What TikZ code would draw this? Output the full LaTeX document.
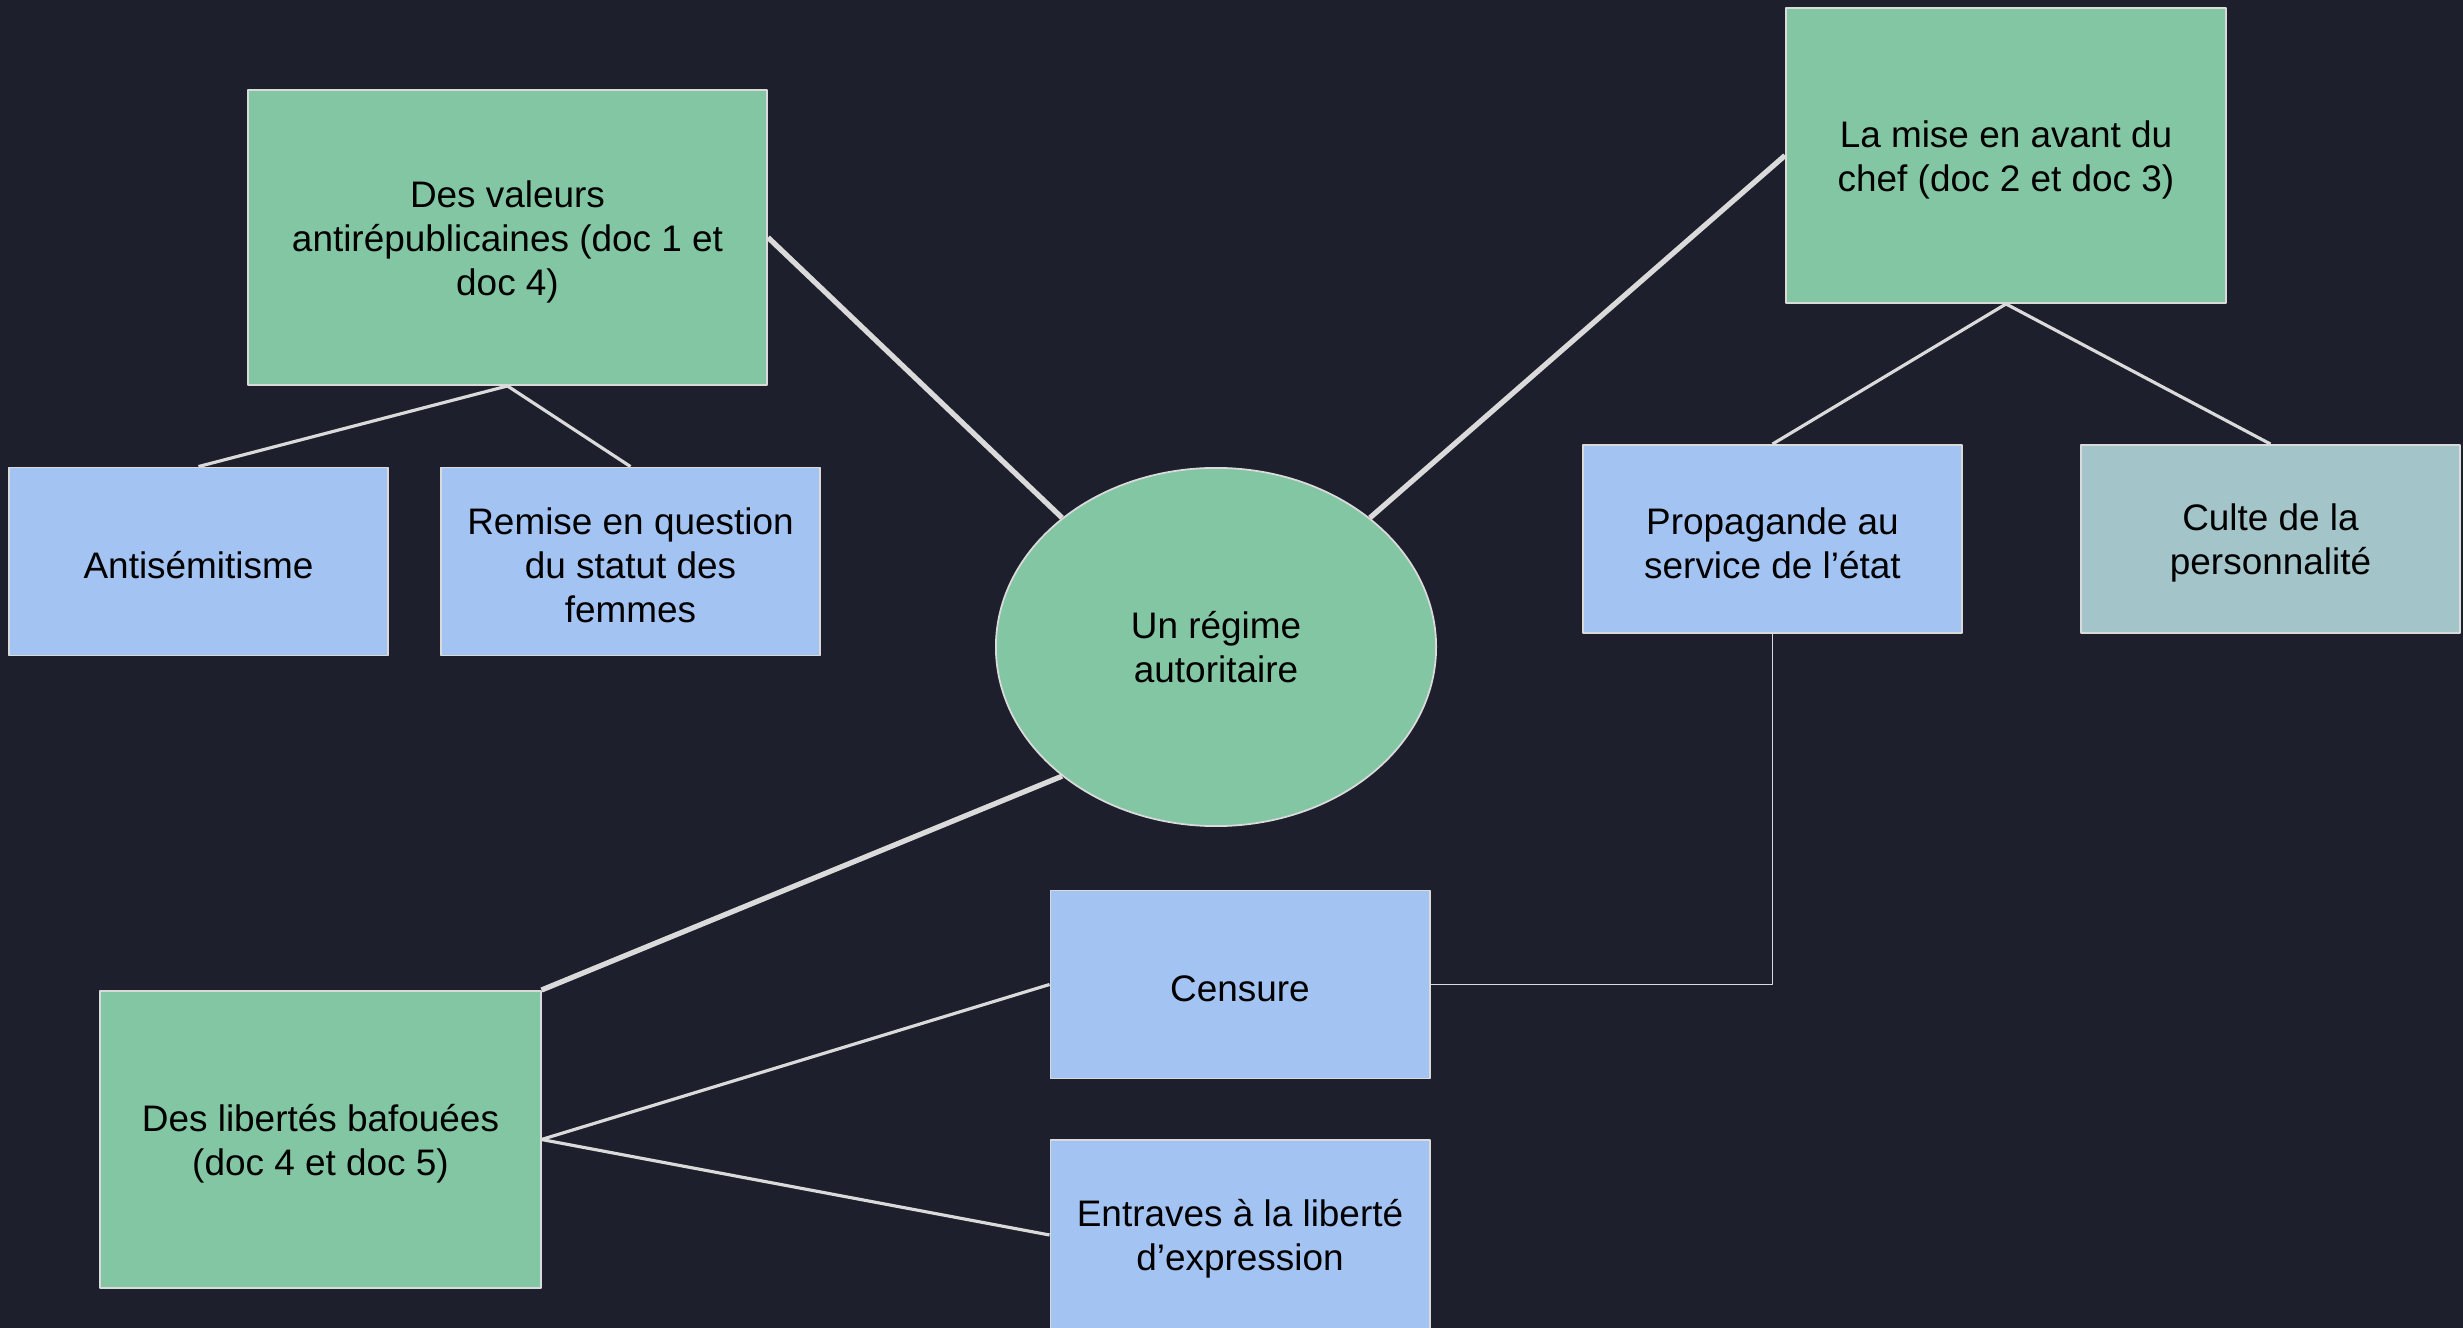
\documentclass[tikz,border=0pt]{standalone}
\usepackage{fontspec}
\setmainfont{Liberation Sans}
\usetikzlibrary{shapes.geometric}
\definecolor{fond}{HTML}{1D1F2C}
\definecolor{vert}{HTML}{83C6A4}
\definecolor{bleu}{HTML}{A3C3F2}
\definecolor{grisbleu}{HTML}{A3C4C8}
\definecolor{trait}{HTML}{DADADA}
\begin{document}
\begin{tikzpicture}[x=0.01cm, y=-0.01cm, font=\fontsize{10.5}{12.5}\selectfont, line join=round,
    boite/.style={rectangle, draw=trait, line width=0.5pt, inner sep=0pt},
    texte/.style={align=center, yshift=-0.04cm},
    grande/.style={boite, fill=vert, minimum width=4.4cm, minimum height=2.95cm},
    petite/.style={boite, fill=bleu, minimum width=3.79cm, minimum height=1.88cm},
    epais/.style={draw=trait, line width=1.5pt},
    fin/.style={draw=trait, line width=0.9pt}]
    \def \largeur{2463}
    \def \hauteur{1328}
    \clip (0,0) rectangle (\largeur,\hauteur);
    \fill[fond] (0,0) rectangle (\largeur,\hauteur);
    % noeuds
    \node[ellipse, draw=trait, line width=0.5pt, fill=vert, align=center, minimum width=4.4cm, minimum height=3.58cm, inner sep=0pt] (regime) at (1216,647) {Un régime\\autoritaire};
    \node[grande, minimum width=5.19cm, label={[texte]center:{Des valeurs\\antirépublicaines (doc 1 et\\doc 4)}}] (valeurs) at (507.5,237.5) {};
    \node[grande, label={[texte]center:{La mise en avant du\\chef (doc 2 et doc 3)}}] (chef) at (2006,155.5) {};
    \node[grande, minimum height=2.97cm, label={[texte]center:{Des libertés bafouées\\(doc 4 et doc 5)}}] (libertes) at (320.5,1139.5) {};
    \node[petite, label={[texte]center:{Antisémitisme}}] (antisem) at (198.5,561.5) {};
    \node[petite, label={[texte]center:{Remise en question\\du statut des\\femmes}}] (femmes) at (630.5,561.5) {};
    \node[petite, label={[texte]center:{Propagande au\\service de l’état}}] (propagande) at (1772.5,539) {};
    \node[petite, fill=grisbleu, label={[texte]center:{Culte de la\\personnalité}}] (culte) at (2270.5,539) {};
    \node[petite, label={[texte]center:{Censure}}] (censure) at (1240,984.5) {};
    \node[petite, minimum height=1.9cm, label={[texte]center:{Entraves à la liberté\\d’expression}}] (entraves) at (1240,1235) {};
    % liens
    \draw[epais] (valeurs.east) -- (regime.140);
    \draw[epais] (regime.40) -- (chef.west);
    \draw[epais] (regime.220) -- (libertes.north east);
    \draw[fin] (valeurs.south) -- (antisem.north);
    \draw[fin] (valeurs.south) -- (femmes.north);
    \draw[fin] (chef.south) -- (propagande.north);
    \draw[fin] (chef.south) -- (culte.north);
    \draw[fin] (libertes.east) -- (censure.west);
    \draw[fin] (libertes.east) -- (entraves.west);
    \draw[draw=trait, line width=0.45pt] (propagande.south) |- (censure.east);
\end{tikzpicture}
\end{document}
